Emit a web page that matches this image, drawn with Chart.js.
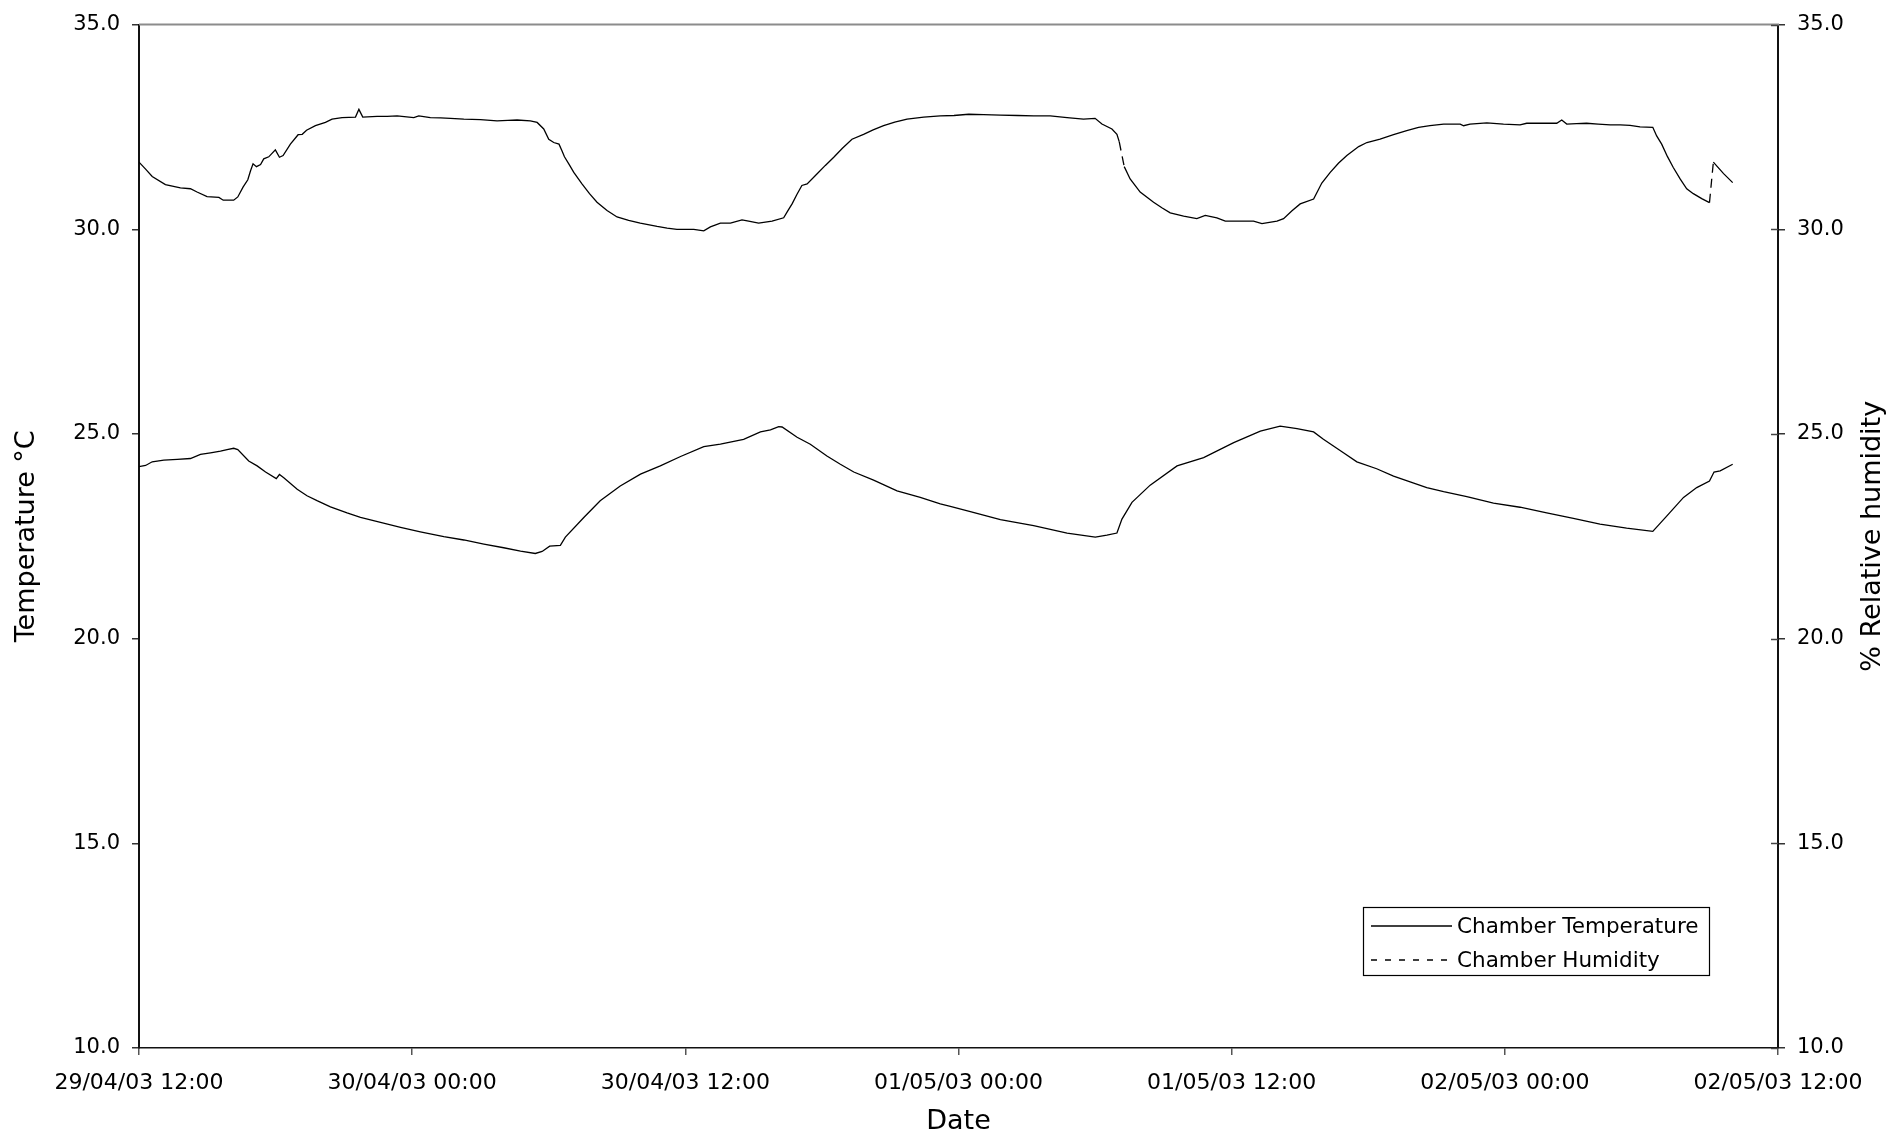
<!DOCTYPE html>
<html>
<head>
<meta charset="utf-8">
<title>Chamber Temperature and Humidity</title>
<script src="https://cdn.jsdelivr.net/npm/chart.js@4.4.0/dist/chart.umd.min.js"></script>
<style>
  html, body { margin: 0; padding: 0; background: #ffffff; }
  canvas { display: block; }
</style>
</head>
<body>
<canvas id="chart" width="1892" height="1135"></canvas>
<script>
// Time is measured in hours elapsed since 29/04/03 12:00.
const xTickLabels = ['29/04/03 12:00', '30/04/03 00:00', '30/04/03 12:00',
                     '01/05/03 00:00', '01/05/03 12:00', '02/05/03 00:00', '02/05/03 12:00'];
const yTickLabels = ['10.0', '15.0', '20.0', '25.0', '30.0', '35.0'];

// Chamber temperature (°C)
const tempHours = [0, 0.29, 0.58, 1.09, 1.68, 2.26, 2.70, 3.14, 3.58, 3.87, 4.16, 4.34, 4.82, 5.19, 5.56,
  6.03, 6.17, 6.36, 6.95, 7.38, 7.82, 8.41, 9.14, 9.73, 10.61, 11.49, 12.36, 13.39, 14.27, 15.15,
  16.02, 16.76, 17.41, 17.71, 18.04, 18.51, 18.73, 19.54, 20.26, 21.14, 22.03, 22.90, 23.79, 24.81,
  25.54, 26.56, 27.30, 27.74, 28.10, 28.25, 28.91, 29.49, 30.22, 30.81, 31.40, 32.27, 33.30, 34.32,
  35.20, 35.64, 36.52, 37.84, 39.30, 40.77, 42.01, 42.52, 42.96, 43.18, 43.62, 44.42, 45.60, 46.77,
  48.09, 49.26, 50.13, 50.87, 51.60, 52.03, 52.91, 53.50, 54.37, 55.11, 55.84, 56.57, 57.31, 58.33,
  59.50, 60.67, 61.84, 63.01, 64.18, 65.35, 66.50, 67.12, 67.85, 68.43, 68.99, 69.19, 69.46, 70.01];
const tempValues = [24.20, 24.23, 24.32, 24.36, 24.38, 24.40, 24.50, 24.54, 24.58, 24.62, 24.65, 24.62, 24.34, 24.22, 24.07,
  23.91, 24.01, 23.93, 23.65, 23.49, 23.37, 23.22, 23.07, 22.96, 22.84, 22.72, 22.61, 22.49, 22.41, 22.31,
  22.22, 22.14, 22.08, 22.13, 22.26, 22.28, 22.48, 22.96, 23.37, 23.73, 24.02, 24.22, 24.45, 24.69,
  24.75, 24.87, 25.05, 25.10, 25.18, 25.17, 24.92, 24.75, 24.46, 24.26, 24.07, 23.87, 23.61, 23.45,
  23.29, 23.23, 23.10, 22.91, 22.76, 22.58, 22.48, 22.53, 22.58, 22.92, 23.33, 23.75, 24.22, 24.42,
  24.79, 25.07, 25.19, 25.13, 25.05, 24.87, 24.54, 24.32, 24.15, 23.97, 23.83, 23.69, 23.59, 23.47,
  23.31, 23.21, 23.07, 22.94, 22.80, 22.70, 22.62, 23.00, 23.45, 23.69, 23.85, 24.07, 24.10, 24.26];

// Chamber relative humidity (%)
const humHours = [0, 0.29, 0.58, 1.16, 1.82, 2.26, 2.55, 2.99, 3.51, 3.70, 4.16, 4.34, 4.57, 4.78, 4.90,
  5.01, 5.16, 5.34, 5.48, 5.70, 5.99, 6.17, 6.33, 6.65, 6.99, 7.17, 7.36, 7.75, 8.19, 8.48, 8.92,
  9.51, 9.66, 9.83, 10.46, 10.90, 11.34, 12.07, 12.29, 12.80, 13.25, 13.68, 14.27, 15.00, 15.73,
  16.20, 16.61, 17.19, 17.49, 17.78, 18.00, 18.22, 18.45, 18.58, 18.69, 18.90, 19.10, 19.46, 19.79,
  20.12, 20.56, 21.00, 21.51, 22.02, 22.76, 23.20, 23.63, 24.00, 24.37, 24.81, 25.10, 25.54, 25.98,
  26.49, 26.78, 27.22, 27.81, 28.32, 28.50, 28.69, 28.90, 29.12, 29.35, 29.78, 30.15, 30.52, 30.90,
  31.32, 31.83, 32.25, 32.71, 33.20, 33.74, 34.47, 35.20, 35.80, 36.45, 37.10, 37.84, 38.60, 39.30,
  40.03, 40.77, 41.49, 42.00, 42.30, 42.74, 42.96, 43.06, 43.28, 43.54, 43.98, 44.57, 44.95, 45.30,
  45.89, 46.47, 46.84, 47.35, 47.72, 48.38, 48.96, 49.33, 49.99, 50.28, 50.65, 51.01, 51.60, 51.96,
  52.33, 52.70, 53.06, 53.58, 53.94, 54.52, 55.11, 55.69, 56.21, 56.71, 57.31, 58.04, 58.19, 58.47,
  59.21, 59.94, 60.67, 60.96, 61.69, 62.28, 62.50, 62.72, 63.15, 63.59, 64.10, 64.63, 65.07, 65.50,
  65.94, 66.50, 66.67, 66.89, 67.14, 67.40, 67.70, 67.99, 68.28, 68.65, 68.99, 69.16, 69.61, 70.01];
const humValues = [31.64, 31.47, 31.29, 31.09, 31.01, 30.99, 30.91, 30.80, 30.78, 30.71, 30.71, 30.79, 31.03, 31.21, 31.43,
  31.60, 31.53, 31.58, 31.72, 31.77, 31.94, 31.76, 31.80, 32.08, 32.31, 32.32, 32.42, 32.53, 32.61, 32.69, 32.73,
  32.74, 32.93, 32.74, 32.76, 32.76, 32.77, 32.73, 32.77, 32.73, 32.72, 32.71, 32.69, 32.68, 32.65,
  32.66, 32.67, 32.65, 32.61, 32.45, 32.20, 32.12, 32.08, 31.92, 31.77, 31.58, 31.39, 31.11, 30.87,
  30.66, 30.46, 30.30, 30.22, 30.15, 30.07, 30.03, 30.00, 30.00, 30.00, 29.96, 30.06, 30.15, 30.15,
  30.23, 30.20, 30.15, 30.20, 30.28, 30.45, 30.62, 30.85, 31.07, 31.11, 31.35, 31.56, 31.76, 31.98,
  32.20, 32.32, 32.43, 32.53, 32.62, 32.69, 32.74, 32.77, 32.78, 32.81, 32.80, 32.79, 32.78, 32.77,
  32.77, 32.73, 32.69, 32.71, 32.57, 32.45, 32.32, 32.14, 31.53, 31.23, 30.91, 30.66, 30.52, 30.40,
  30.32, 30.26, 30.34, 30.28, 30.20, 30.20, 30.20, 30.14, 30.20, 30.26, 30.45, 30.62, 30.74, 31.13,
  31.39, 31.62, 31.80, 32.02, 32.12, 32.20, 32.31, 32.41, 32.49, 32.53, 32.57, 32.57, 32.53, 32.57,
  32.60, 32.57, 32.55, 32.59, 32.59, 32.59, 32.67, 32.57, 32.58, 32.59, 32.57, 32.55, 32.55, 32.54,
  32.50, 32.49, 32.28, 32.08, 31.78, 31.51, 31.23, 30.99, 30.87, 30.75, 30.65, 31.64, 31.36, 31.14];

const FONT = 'DejaVu Sans';
const HUMID_DASH = [9, 6];     // dash used on the long humidity segments
const LEGEND_DASH = [6, 8];
const DASH_MIN_PX = 21;        // humidity segments longer than this are drawn dashed

const toPoints = (xs, ys) => xs.map((x, i) => ({ x: x, y: ys[i] }));
const segLength = ctx => Math.hypot(ctx.p1.x - ctx.p0.x, ctx.p1.y - ctx.p0.y);

// Grey top frame line and the inner half of the right-axis tick marks
const framePlugin = {
  id: 'frame',
  afterDraw(chart) {
    const { ctx, chartArea: a, scales } = chart;
    ctx.save();
    ctx.strokeStyle = '#8c8c8c';
    ctx.lineWidth = 2;
    ctx.beginPath();
    ctx.moveTo(a.left, a.top);
    ctx.lineTo(a.right + 1, a.top);
    ctx.stroke();
    ctx.strokeStyle = '#444';
    ctx.lineWidth = 1.5;
    scales.y1.ticks.forEach(t => {
      const py = Math.round(scales.y1.getPixelForValue(t.value)) + 0.5;
      ctx.beginPath();
      ctx.moveTo(a.right - 7, py);
      ctx.lineTo(a.right, py);
      ctx.stroke();
    });
    ctx.restore();
  }
};

// Right-hand axis title reads bottom to top
const rightTitlePlugin = {
  id: 'rightTitle',
  afterDraw(chart) {
    const { ctx, chartArea: a } = chart;
    ctx.save();
    ctx.translate(1873, (a.top + a.bottom) / 2);
    ctx.rotate(-Math.PI / 2);
    ctx.font = '27px "' + FONT + '"';
    ctx.fillStyle = '#000';
    ctx.textAlign = 'center';
    ctx.textBaseline = 'middle';
    ctx.fillText('% Relative humidity', 0, 0);
    ctx.restore();
  }
};

// Boxed legend in the lower right of the plot area
const boxLegendPlugin = {
  id: 'boxLegend',
  afterDraw(chart) {
    const { ctx } = chart;
    const box = { x: 1363, y: 907, w: 346, h: 68 };
    ctx.save();
    ctx.fillStyle = '#fff';
    ctx.fillRect(box.x, box.y, box.w, box.h);
    ctx.strokeStyle = '#000';
    ctx.lineWidth = 1.2;
    ctx.strokeRect(box.x + 0.5, box.y + 0.5, box.w, box.h);
    ctx.font = '21.5px "' + FONT + '"';
    ctx.textBaseline = 'middle';
    ctx.fillStyle = '#000';
    chart.data.datasets.forEach((ds, i) => {
      const cy = box.y + 19 + i * 34;
      ctx.setLineDash(i === 1 ? LEGEND_DASH : []);
      ctx.strokeStyle = ds.borderColor;
      ctx.lineWidth = 1.3;
      ctx.beginPath();
      ctx.moveTo(box.x + 8, cy);
      ctx.lineTo(box.x + 89, cy);
      ctx.stroke();
      ctx.setLineDash([]);
      ctx.fillText(ds.label, box.x + 94, cy + 1);
    });
    ctx.restore();
  }
};

const tickFont = { family: FONT, size: 22 };
const yTickFont = { family: FONT, size: 21 };
const titleFont = { family: FONT, size: 27, lineHeight: 1 };

new Chart(document.getElementById('chart'), {
  type: 'line',
  data: {
    datasets: [
      {
        label: 'Chamber Temperature',
        data: toPoints(tempHours, tempValues),
        yAxisID: 'y',
        borderColor: '#000',
        borderWidth: 1.3,
        pointRadius: 0,
        tension: 0,
        fill: false
      },
      {
        label: 'Chamber Humidity',
        data: toPoints(humHours, humValues),
        yAxisID: 'y1',
        borderColor: '#000',
        borderWidth: 1.3,
        pointRadius: 0,
        tension: 0,
        fill: false,
        segment: {
          borderDash: ctx => (segLength(ctx) > DASH_MIN_PX ? HUMID_DASH : undefined)
        }
      }
    ]
  },
  options: {
    responsive: false,
    animation: false,
    devicePixelRatio: 1,
    layout: { padding: { top: 18, left: 0, right: 0, bottom: 0 } },
    plugins: {
      legend: { display: false },
      tooltip: { enabled: false }
    },
    scales: {
      x: {
        type: 'linear',
        position: 'bottom',
        min: 0,
        max: 72,
        ticks: {
          stepSize: 12,
          autoSkip: false,
          maxRotation: 0,
          padding: 15,
          color: '#000',
          font: tickFont,
          callback: v => xTickLabels[Math.round(v / 12)]
        },
        grid: { drawOnChartArea: false, tickLength: 7, color: '#555', lineWidth: 1.5 },
        border: { color: '#111', width: 1.5 },
        title: { display: true, text: 'Date', color: '#000', font: titleFont, padding: { top: 0, bottom: 0 } },
        afterFit: s => { s.height = 87; }
      },
      y: {
        position: 'left',
        min: 10,
        max: 35,
        ticks: {
          stepSize: 5,
          padding: 12,
          color: '#000',
          font: yTickFont,
          callback: v => yTickLabels[Math.round((v - 10) / 5)]
        },
        grid: { drawOnChartArea: false, tickLength: 7, color: '#333', lineWidth: 1.5 },
        border: { color: '#111', width: 2 },
        title: { display: true, text: 'Temperature °C', color: '#000', font: titleFont, padding: { top: 13, bottom: 0 } },
        afterFit: s => { s.width = 139; }
      },
      y1: {
        position: 'right',
        min: 10,
        max: 35,
        ticks: {
          stepSize: 5,
          padding: 12,
          color: '#000',
          font: yTickFont,
          callback: v => yTickLabels[Math.round((v - 10) / 5)]
        },
        grid: { drawOnChartArea: false, tickLength: 7, color: '#333', lineWidth: 1.5 },
        border: { color: '#111', width: 2 },
        afterFit: s => { s.width = 114; }
      }
    }
  },
  plugins: [framePlugin, rightTitlePlugin, boxLegendPlugin]
});
</script>
</body>
</html>
